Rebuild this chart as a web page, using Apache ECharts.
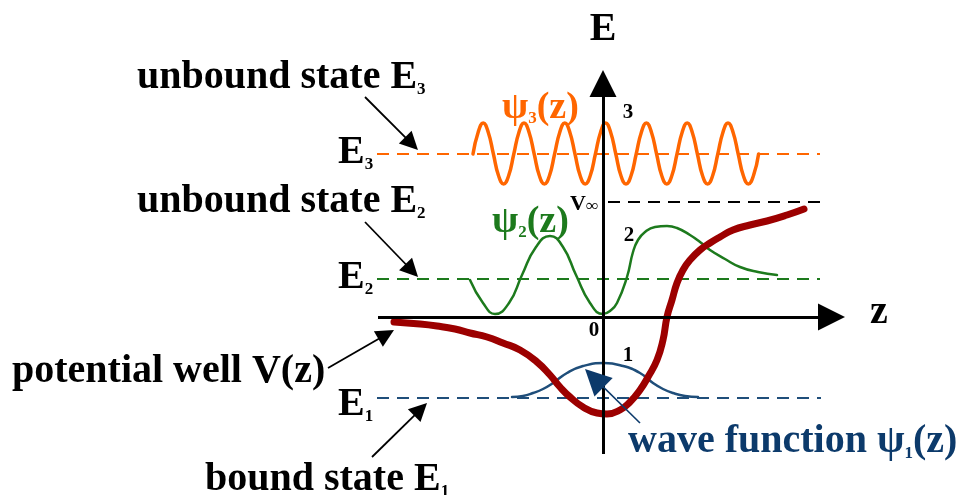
<!DOCTYPE html>
<html>
<head>
<meta charset="utf-8">
<script src="https://cdn.jsdelivr.net/npm/echarts@6/dist/echarts.min.js"></script>
<style>
  html, body { margin: 0; padding: 0; background: #fff; }
  #chart { width: 959px; height: 495px; }
</style>
</head>
<body>
<div id="chart"></div>
<script>
// z and E (1 unit = 10 px, origin where the axes cross)
var potential = [[-20.9,-0.5],[-18.3,-0.7],[-16.6,-0.9],[-14.8,-1.2],[-13.3,-1.6],[-11.6,-2.0],[-10.0,-2.6],[-8.3,-3.3],[-6.6,-4.5],[-5.3,-5.8],[-4.3,-7.0],[-3.3,-8.0],[-2.0,-9.0],[-0.6,-9.6],[0.4,-9.7],[1.7,-9.3],[2.7,-8.5],[3.7,-7.3],[4.5,-6.0],[5.4,-4.3],[6.0,-2.3],[6.4,0],[6.9,1.7],[7.4,3.4],[8.0,4.7],[8.7,5.7],[9.7,6.7],[10.7,7.4],[11.7,8.0],[13.0,8.7],[14.7,9.2],[16.4,9.6],[18.4,10.2],[20.1,10.8]];
var psi1 = [[-9.1,-8.0],[-8.0,-7.9],[-7.0,-7.6],[-6.0,-7.2],[-5.0,-6.6],[-3.6,-5.6],[-2.0,-4.9],[0.1,-4.6],[2.0,-4.9],[3.7,-5.6],[5.0,-6.6],[6.0,-7.2],[7.0,-7.6],[8.2,-7.9],[9.5,-8.0]];
var psi2 = [[-13.3,3.7],[-12.0,1.4],[-10.8,0.3],[-9.4,1.4],[-8.1,4.2],[-6.7,7.0],[-5.3,8.1],[-4.0,7.0],[-2.7,4.2],[-1.3,1.4],[0,0.3],[0.7,0.6],[1.4,1.4],[2.4,4.0],[3.0,6.5],[3.5,7.7],[4.2,8.5],[5.2,9.0],[6.4,9.1],[7.4,8.9],[8.7,8.2],[9.7,7.5],[10.7,6.7],[12.2,5.8],[13.7,5.0],[15.5,4.5],[17.4,4.2]];
var psi3 = [[-13.00,16.3],[-12.49,18.45],[-11.98,19.4],[-11.47,18.45],[-10.96,16.3],[-10.45,14.15],[-9.94,13.3],[-9.43,14.15],
  [-8.92,16.3],[-8.41,18.45],[-7.90,19.4],[-7.39,18.45],[-6.88,16.3],[-6.37,14.15],[-5.86,13.3],[-5.35,14.15],
  [-4.84,16.3],[-4.33,18.45],[-3.82,19.4],[-3.31,18.45],[-2.80,16.3],[-2.29,14.15],[-1.78,13.3],[-1.27,14.15],
  [-0.76,16.3],[-0.25,18.45],[0.26,19.4],[0.77,18.45],[1.28,16.3],[1.79,14.15],[2.30,13.3],[2.81,14.15],
  [3.32,16.3],[3.83,18.45],[4.34,19.4],[4.85,18.45],[5.36,16.3],[5.87,14.15],[6.38,13.3],[6.89,14.15],
  [7.40,16.3],[7.91,18.45],[8.42,19.4],[8.93,18.45],[9.44,16.3],[9.95,14.15],[10.46,13.3],[10.97,14.15],
  [11.48,16.3],[11.99,18.45],[12.50,19.4],[13.01,18.45],[13.52,16.3],[14.03,14.15],[14.54,13.3],[15.05,14.15],[15.56,16.3]];

// energy levels: [E, zFrom, zTo]
var levelE1 = [-8.1, -22.6, 21.8];
var levelE2 = [3.8, -22.6, 21.7];
var levelE3 = [16.3, -22.6, 21.7];
var levelVinf = [11.5, 0.5, 21.7];

// axes and pointer arrows: [from, to]
var axisZ = [[-22.5, 0], [22.85, 0]];
var axisE = [[0, -13.7], [0, 23.35]];
var blackArrows = [
  [[-23.8, 22.0], [-19.14, 17.34]],
  [[-23.8, 9.5], [-19.12, 4.65]],
  [[-27.5, -5.1], [-21.68, -1.75]],
  [[-23.1, -14.0], [-18.24, -9.23]]
];
var waveArrow = [[3.7, -10.6], [-0.87, -6.11]];

var serif = 'Liberation Serif';
var myChart = echarts.init(document.getElementById('chart'));

function level(l, color) {
  return {
    type: 'line', silent: true, symbol: 'none', z: 2,
    data: [[l[1], l[0]], [l[2], l[0]]],
    lineStyle: { color: color, width: 1.8, type: [12, 8] }
  };
}
function curve(d, color, w, z) {
  return {
    type: 'line', silent: true, symbol: 'none', smooth: 0.5, z: z,
    data: d, lineStyle: { color: color, width: w, cap: 'round', join: 'round' }
  };
}
function note(pos, text, align) {
  return { value: pos, label: { formatter: text, align: align || 'left' } };
}
function font(size, color, sub) {
  var s = { fontFamily: serif, fontWeight: 'bold', fontSize: size, color: color };
  if (sub) s.verticalAlign = 'bottom';
  return s;
}

var rich = {
  b: font(40, '#000'), s: font(17, '#000', true),
  big: font(40, '#000'),
  n: font(21, '#000'),
  v: font(22, '#000'), vs: font(17, '#000', true),
  o: font(38, '#ff6600'), os: font(17, '#ff6600', true),
  g: font(38, '#1d7a1d'), gs: font(17, '#1d7a1d', true),
  w: font(40, '#0c3a6b'), ws: font(17, '#0c3a6b', true)
};

var option = {
  animation: false,
  grid: { left: 0, right: 0, top: 0, bottom: 0 },
  xAxis: { type: 'value', min: -60.3, max: 35.6, show: false },
  yAxis: { type: 'value', min: -17.8, max: 31.7, show: false },
  series: [
    level(levelE3, '#ff6600'),
    level(levelE2, '#1d7a1d'),
    level(levelE1, '#1f4e7a'),
    level(levelVinf, '#000'),
    curve(psi3, '#ff6600', 3.5, 3),
    curve(psi2, '#1d7a1d', 2.5, 3),
    curve(psi1, '#1f4e7a', 2.5, 3),
    curve(potential, '#9c0000', 7, 4),
    {
      type: 'lines', coordinateSystem: 'cartesian2d', silent: true, z: 6,
      symbol: ['none', 'triangle'], symbolSize: [18, 27],
      lineStyle: { color: '#000', width: 3, opacity: 1 },
      data: [{ coords: axisZ }, { coords: axisE }]
    },
    {
      type: 'lines', coordinateSystem: 'cartesian2d', silent: true, z: 6,
      symbol: ['none', 'triangle'], symbolSize: [13, 18],
      lineStyle: { color: '#000', width: 1.8, opacity: 1 },
      data: blackArrows.map(function (a) { return { coords: a }; })
    },
    {
      type: 'lines', coordinateSystem: 'cartesian2d', silent: true, z: 6,
      symbol: ['none', 'triangle'], symbolSize: [17, 26],
      lineStyle: { color: '#0c3a6b', width: 1.6, opacity: 1 },
      data: [{ coords: waveArrow }]
    },
    {
      type: 'scatter', silent: true, symbolSize: 0, z: 7,
      itemStyle: { opacity: 1 },
      label: { show: true, position: 'inside', verticalAlign: 'middle', opacity: 1, rich: rich },
      data: [
        note([-46.6, 23.9], '{b|unbound state E}{s|3}'),
        note([-26.5, 16.4], '{b|E}{s|3}'),
        note([-46.6, 11.5], '{b|unbound state E}{s|2}'),
        note([-26.5, 3.9], '{b|E}{s|2}'),
        note([-59.1, -5.5], '{b|potential well V(z)}'),
        note([-26.5, -8.8], '{b|E}{s|1}'),
        note([-39.8, -16.3], '{b|bound state E}{s|1}'),
        note([0, 28.7], '{big|E}', 'center'),
        note([27.6, 0.4], '{big|z}', 'center'),
        note([-0.9, -1.4], '{n|0}', 'center'),
        note([2.5, -3.9], '{n|1}', 'center'),
        note([2.6, 8.1], '{n|2}', 'center'),
        note([2.5, 20.4], '{n|3}', 'center'),
        note([-3.3, 11.3], '{v|V}{vs|∞}'),
        note([-10.1, 20.9], '{o|ψ}{os|3}{o|(z)}'),
        note([-11.1, 9.5], '{g|ψ}{gs|2}{g|(z)}'),
        note([2.5, -12.5], '{w|wave function ψ}{ws|1}{w|(z)}')
      ]
    }
  ]
};
myChart.setOption(option, true);
</script>
</body>
</html>
